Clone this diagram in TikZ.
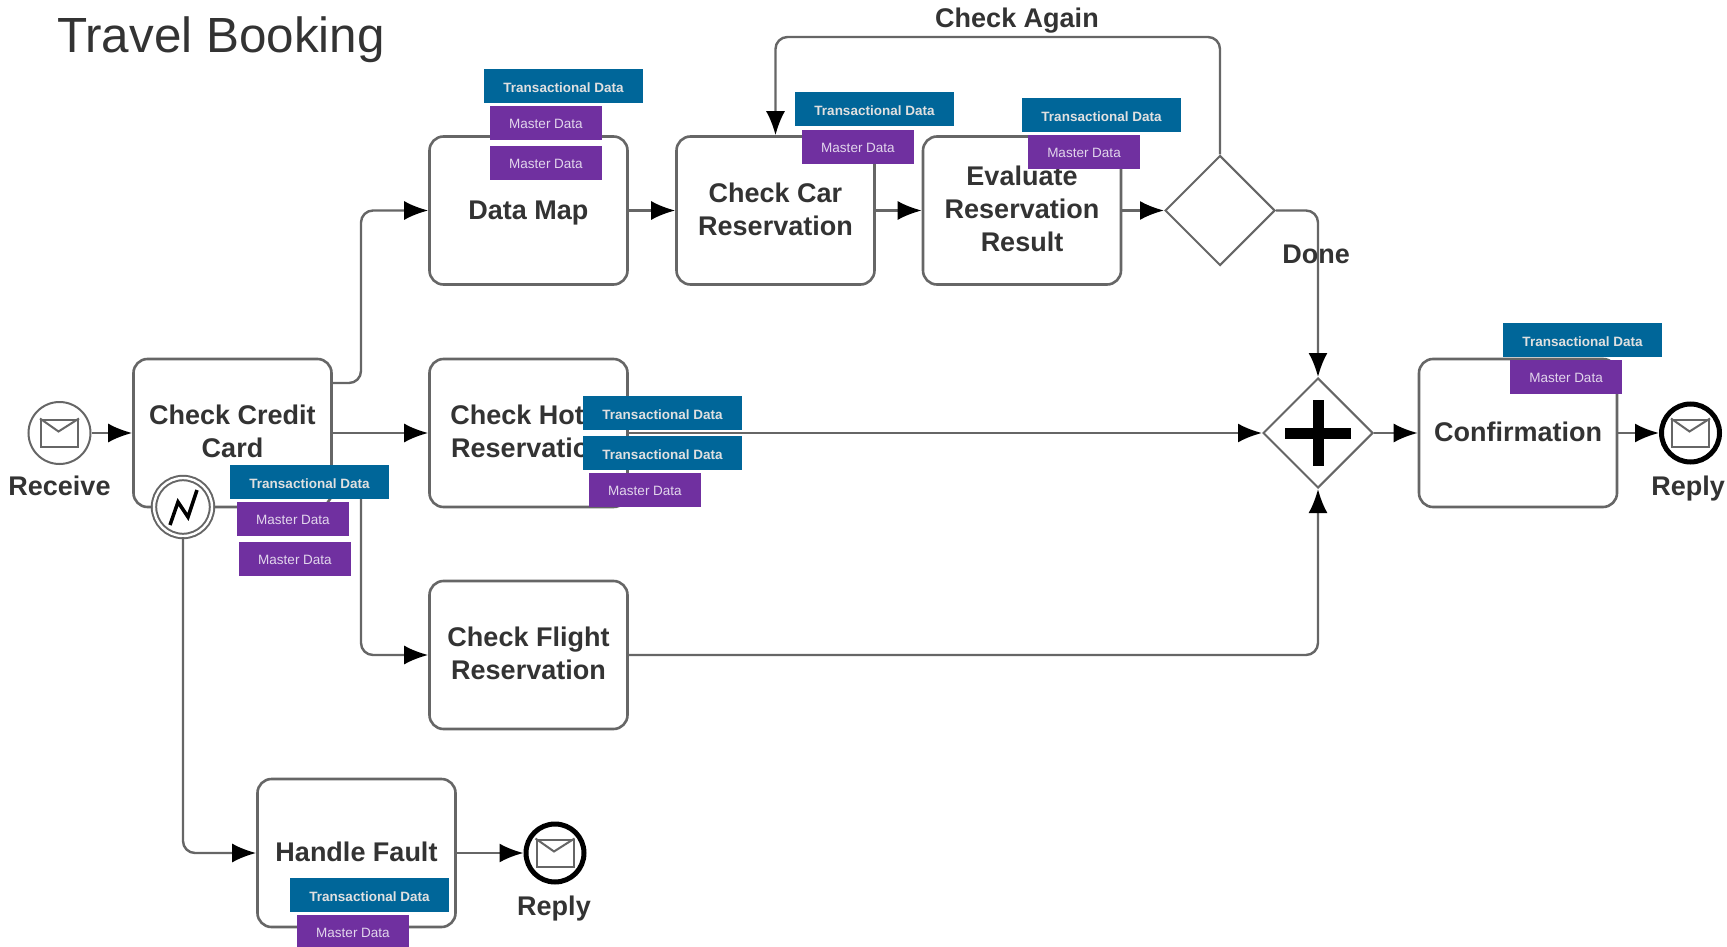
\documentclass[tikz,border=0pt]{standalone}
\usepackage{fontspec}
\setmainfont{Liberation Sans}
\usepackage{tikz}
\usetikzlibrary{arrows.meta, shapes.geometric}

\definecolor{linegray}{HTML}{666666}
\definecolor{labelgray}{HTML}{333333}
\definecolor{tagblue}{HTML}{006699}
\definecolor{tagpurple}{HTML}{7030A0}

\tikzset{
    task/.style = {draw = linegray, line width = 2.6pt, rounded corners = 14pt, fill = white,
        minimum width = 198pt, minimum height = 148pt, inner sep = 0pt, align = center, text depth = 3.5pt,
        text = labelgray, font = {\fontsize{27}{33}\selectfont\bfseries}},
    startevent/.style = {circle, draw = linegray, line width = 2pt, fill = white, minimum size = 62pt, inner sep = 0pt},
    endevent/.style = {circle, draw = black, line width = 5pt, fill = white, minimum size = 58pt, inner sep = 0pt},
    faultevent/.style = {circle, draw = linegray, line width = 2pt, double = white, double distance = 2.4pt, fill = white, minimum size = 58pt, inner sep = 0pt},
    gateway/.style = {diamond, draw = linegray, line width = 2pt, fill = white, minimum width = 110pt, minimum height = 110pt, inner sep = 0pt},
    mailicon/.style = {draw = linegray, line width = 2pt, minimum width = 37pt, minimum height = 27pt, inner sep = 0pt},
    flow/.style = {draw = linegray, line width = 2.4pt, rounded corners = 12pt, -{Latex[length = 24pt, width = 19pt, black]}},
    caption/.style = {text = labelgray, inner sep = 0pt, font = {\fontsize{27}{33}\selectfont\bfseries}},
    txtag/.style = {fill = tagblue, text = white!88!black, minimum width = 159pt, minimum height = 34pt, inner sep = 0pt,
        text height = 12.5pt, text depth = 0pt, font = {\fontsize{13.5}{16}\selectfont\bfseries}},
    mdtag/.style = {fill = tagpurple, text = white!80!tagpurple, minimum width = 112pt, minimum height = 34pt, inner sep = 0pt,
        text height = 11.5pt, text depth = 0pt, font = {\fontsize{13.5}{16}\selectfont}}
}

\begin{document}
\begin{tikzpicture}[x = 1pt, y = -1pt]
        \useasboundingbox (0, 0) rectangle (1727, 947);

        \node[text = labelgray, inner sep = 0pt, font = {\fontsize{49.4}{60}\selectfont}] (title) at (221, 40) {Travel Booking};

        % tasks
        \node[task] (credit) at (232.5, 433) {Check Credit\\Card};
        \node[task, text depth = 0pt] (datamap) at (528.5, 210.5) {Data Map};
        \node[task] (hotel) at (528.5, 433) {Check Hotel\\Reservation};
        \node[task] (flight) at (528.5, 655) {Check Flight\\Reservation};
        \node[task] (car) at (775.5, 210.5) {Check Car\\Reservation};
        \node[task] (evaluate) at (1022, 210.5) {Evaluate\\Reservation\\Result};
        \node[task] (confirm) at (1518, 433) {Confirmation};
        \node[task] (handle) at (356.5, 853) {Handle Fault};

        % events
        \node[startevent] (receive) at (59.5, 433) {};
        \node[endevent] (replytop) at (1690.5, 433) {};
        \node[endevent] (replyfault) at (555, 853) {};
        \node[faultevent] (fault) at (183, 507) {};
        \node[mailicon] (receivemail) at (receive) {};
        \node[mailicon] (replytopmail) at (replytop) {};
        \node[mailicon] (replyfaultmail) at (replyfault) {};
        \draw[linegray, line width = 2pt] (receivemail.north west) -- ++(18.5, 13) -- (receivemail.north east);
        \draw[linegray, line width = 2pt] (replytopmail.north west) -- ++(18.5, 13) -- (replytopmail.north east);
        \draw[linegray, line width = 2pt] (replyfaultmail.north west) -- ++(18.5, 13) -- (replyfaultmail.north east);
        \draw[black, line width = 3.5pt] ([xshift = -13pt, yshift = -18pt]fault.center) -- ([xshift = -5pt, yshift = 5pt]fault.center)
            -- ([xshift = 5pt, yshift = -10pt]fault.center) -- ([xshift = 14pt, yshift = 17pt]fault.center);

        % gateways
        \node[gateway] (choice) at (1220, 210.5) {};
        \node[gateway] (join) at (1318, 433) {};
        \draw[black, line width = 11pt] ([yshift = 33pt]join.center) -- ([yshift = -33pt]join.center);
        \draw[black, line width = 11pt] ([xshift = -33pt]join.center) -- ([xshift = 33pt]join.center);

        % flows
        \draw[flow] (receive) -- (credit);
        \draw[flow] (credit) -- (hotel);
        \draw[flow] ([yshift = 50pt]credit.east) -| (361, 210.5) -- (datamap);
        \draw[flow] ([yshift = -50pt]credit.east) -| (361, 655) -- (flight);
        \draw[flow] (datamap) -- (car);
        \draw[flow] (car) -- (evaluate);
        \draw[flow] (evaluate) -- (choice);
        \draw[flow] (choice.north) |- (775.5, 37) -- (car.north);
        \draw[flow] (choice.east) -| (join.north);
        \draw[flow] (hotel) -- (join);
        \draw[flow] (flight) -| (join.south);
        \draw[flow] (join) -- (confirm);
        \draw[flow] (confirm) -- (replytop);
        \draw[flow] (fault.south) |- (handle);
        \draw[flow] (handle) -- (replyfault);

        % labels
        \node[caption] (receivelabel) at (59.5, 486) {Receive};
        \node[caption] (replytoplabel) at (1688, 489) {Reply};
        \node[caption] (replyfaultlabel) at (554, 909) {Reply};
        \node[caption] (againlabel) at (1017, 21) {Check Again};
        \node[caption] (donelabel) at (1316, 254) {Done};

        % data tags
        \node[txtag] (txdatamap) at (563.5, 86) {Transactional Data};
        \node[mdtag] (mddatamapa) at (546, 123) {Master Data};
        \node[mdtag] (mddatamapb) at (546, 163) {Master Data};
        \node[txtag] (txcar) at (874.5, 109) {Transactional Data};
        \node[mdtag] (mdcar) at (858, 147) {Master Data};
        \node[txtag] (txevaluate) at (1101.5, 115) {Transactional Data};
        \node[mdtag] (mdevaluate) at (1084, 152) {Master Data};
        \node[txtag] (txhotela) at (662.5, 413) {Transactional Data};
        \node[txtag] (txhotelb) at (662.5, 453) {Transactional Data};
        \node[mdtag] (mdhotel) at (645, 490) {Master Data};
        \node[txtag] (txcredit) at (309.5, 482) {Transactional Data};
        \node[mdtag] (mdcredita) at (293, 519) {Master Data};
        \node[mdtag] (mdcreditb) at (295, 559) {Master Data};
        \node[txtag] (txconfirm) at (1582.5, 340) {Transactional Data};
        \node[mdtag] (mdconfirm) at (1566, 377) {Master Data};
        \node[txtag] (txhandle) at (369.5, 895) {Transactional Data};
        \node[mdtag] (mdhandle) at (353, 932) {Master Data};
\end{tikzpicture}
\end{document}
